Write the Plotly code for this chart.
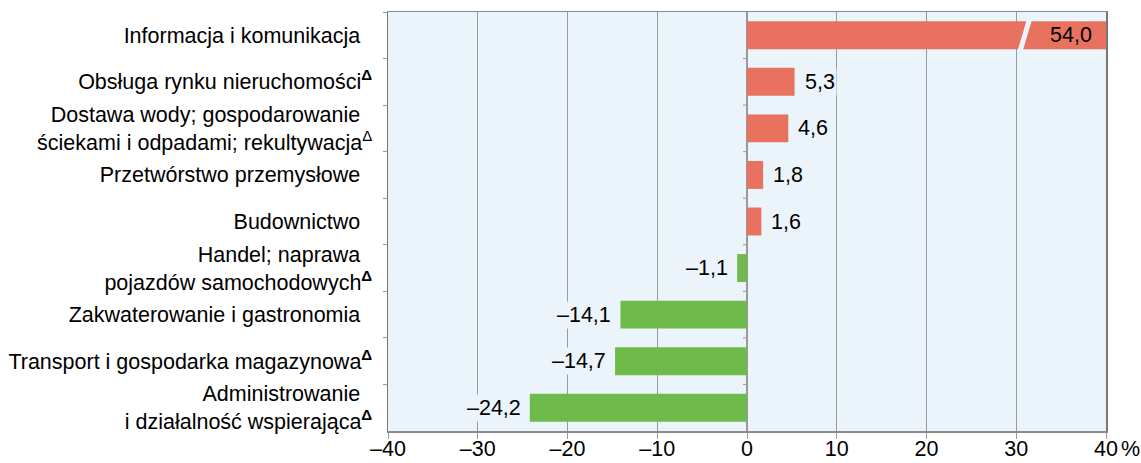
import plotly.graph_objects as go

categories = [
    "Informacja i komunikacja\u00a0\u00a0",
    "Obsługa rynku nieruchomości<sup><b>Δ</b></sup>",
    "Dostawa wody; gospodarowanie\u00a0\u00a0<br>ściekami i odpadami; rekultywacja<sup>Δ</sup>",
    "Przetwórstwo przemysłowe\u00a0\u00a0",
    "Budownictwo\u00a0\u00a0",
    "Handel; naprawa\u00a0\u00a0<br>pojazdów samochodowych<sup><b>Δ</b></sup>",
    "Zakwaterowanie i gastronomia\u00a0\u00a0",
    "Transport i gospodarka magazynowa<sup><b>Δ</b></sup>",
    "Administrowanie\u00a0\u00a0<br>i działalność wspierająca<sup><b>Δ</b></sup>",
]
values = [54.0, 5.3, 4.6, 1.8, 1.6, -1.1, -14.1, -14.7, -24.2]
x_tick_values = [-40, -30, -20, -10, 0, 10, 20, 30, 40]
x_tick_labels = ["–40", "–30", "–20", "–10", "0", "10", "20", "30", "40"]
axis_min, axis_max = -40, 40

RED = "#E8725F"
GREEN = "#6EBB4B"
BG = "#EBF4FA"
FONT = "Liberation Sans, Arial, sans-serif"
FS = 21.5

shown = [min(v, axis_max) for v in values]
colors = [RED if v >= 0 else GREEN for v in values]

fig = go.Figure()
fig.add_trace(go.Bar(
    x=shown, y=categories, orientation="h",
    marker=dict(color=colors, line=dict(width=0)),
    hoverinfo="skip",
))

def fmt(v):
    return f"{v:.1f}".replace(".", ",").replace("-", "–")

annotations = []
for i, (c, v, s) in enumerate(zip(categories, values, shown)):
    if v > axis_max:
        annotations.append(dict(x=axis_max, y=c, xref="x", yref="y", text=fmt(v),
                                showarrow=False, xanchor="right", xshift=-12,
                                font=dict(family=FONT, size=FS, color="black")))
    elif v >= 0:
        annotations.append(dict(x=s, y=c, xref="x", yref="y", text=fmt(v),
                                showarrow=False, xanchor="left", xshift=8, bgcolor=BG,
                                font=dict(family=FONT, size=FS, color="black")))
    else:
        annotations.append(dict(x=s, y=c, xref="x", yref="y", text=fmt(v),
                                showarrow=False, xanchor="right", xshift=-7, bgcolor=BG,
                                font=dict(family=FONT, size=FS, color="black")))

annotations.append(dict(x=1, y=0, xref="paper", yref="paper", text="%", showarrow=False,
                        xanchor="left", yanchor="top", xshift=13, yshift=-4,
                        font=dict(family=FONT, size=FS, color="black")))

shapes = []
# axis break on the clipped bar
for i, v in enumerate(values):
    if v > axis_max:
        shapes.append(dict(type="line", xref="x", yref="y", x0=30.4, x1=31.5,
                           y0=i + 0.36, y1=i - 0.36, line=dict(color=BG, width=5), layer="above"))
# small ticks at the zero line between categories
for i in range(len(categories) - 1):
    shapes.append(dict(type="line", xref="x", yref="y", xsizemode="pixel", xanchor=0,
                       x0=-4, x1=0, y0=i + 0.5, y1=i + 0.5,
                       line=dict(color="#999999", width=1), layer="above"))

fig.update_layout(
    width=1141, height=463,
    margin=dict(l=388, r=35, t=12, b=32, autoexpand=False),
    paper_bgcolor="white", plot_bgcolor=BG,
    bargap=0.4, showlegend=False,
    font=dict(family=FONT, size=FS, color="black"),
    annotations=annotations, shapes=shapes,
)
fig.update_xaxes(
    range=[axis_min, axis_max], tickvals=x_tick_values, ticktext=x_tick_labels,
    automargin=False,
    showgrid=True, gridcolor="#9a9a9a", gridwidth=1,
    zeroline=True, zerolinecolor="#999999", zerolinewidth=1.5,
    showline=True, linecolor="#8a8a8a", linewidth=1.5, mirror=True,
    ticks="outside", ticklen=6, tickcolor="#9a9a9a",
    tickfont=dict(family=FONT, size=FS, color="black"),
    ticklabelstandoff=-8,
)
fig.update_yaxes(
    type="category", range=[len(categories) - 0.5, -0.5], automargin=False,
    showgrid=False, zeroline=False,
    showline=True, linecolor="#777777", linewidth=1.5, mirror=True,
    ticks="outside", ticklen=4, tickcolor="#999999", tickson="boundaries",
    tickfont=dict(family=FONT, size=FS, color="black"),
    ticklabelstandoff=10,
)

fig.write_html(
    "out.html",
    config={"displayModeBar": False, "staticPlot": True},
    post_script="document.body.style.margin='0';document.body.style.overflow='hidden';",
)
